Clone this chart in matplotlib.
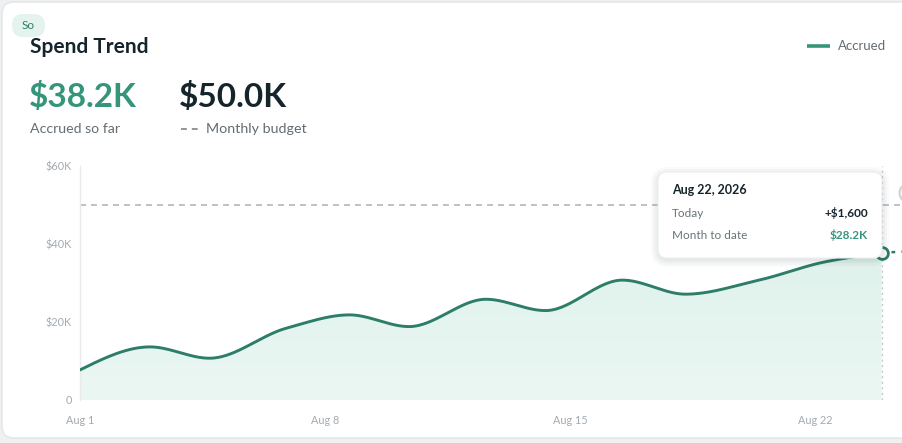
import numpy as np
import matplotlib
matplotlib.use("Agg")
import matplotlib.pyplot as plt
from matplotlib.patches import FancyBboxPatch, Circle, Polygon
from matplotlib.colors import LinearSegmentedColormap

plt.rcParams['font.family'] = ['Lato', 'DejaVu Sans']

# data (day of August, accrued $)
days = [1.0, 3.0, 4.7, 6.9, 8.7, 10.4, 12.6, 14.3, 16.5, 18.3, 20.4, 22.3, 23.9]
accrued = [7700, 13600, 10700, 18400, 21800, 18800, 25800, 22900, 30700, 27100, 30700, 35400, 37700]
budget = 50000
proj_days = [23.9, 24.5]
proj_vals = [37700, 38000]
x_ticks = [1, 8, 15, 22]
x_labels = ["Aug 1", "Aug 8", "Aug 15", "Aug 22"]
y_ticks = [0, 20000, 40000, 60000]
y_labels = ["0", "$20K", "$40K", "$60K"]

GREEN = '#2d7d69'
GREEN_TXT = '#35957b'
DARK = '#16242c'
GRAY = '#646d73'
TICK = '#a3aaaf'

W, H = 902, 443


def monotone(x, y, n=600):
    # monotone cubic (like d3 curveMonotoneX)
    x = np.asarray(x, float)
    y = np.asarray(y, float)
    h = np.diff(x)
    d = np.diff(y) / h
    m = np.zeros_like(y)
    for i in range(1, len(x) - 1):
        if d[i - 1] * d[i] <= 0:
            m[i] = 0
        else:
            w1 = 2 * h[i] + h[i - 1]
            w2 = h[i] + 2 * h[i - 1]
            m[i] = (w1 + w2) / (w1 / d[i - 1] + w2 / d[i])
    m[0] = (3 * d[0] - m[1]) / 2
    m[-1] = (3 * d[-1] - m[-2]) / 2
    xs = np.linspace(x[0], x[-1], n)
    k = np.clip(np.searchsorted(x, xs) - 1, 0, len(h) - 1)
    t = (xs - x[k]) / h[k]
    h00 = 2 * t**3 - 3 * t**2 + 1
    h10 = t**3 - 2 * t**2 + t
    h01 = -2 * t**3 + 3 * t**2
    h11 = t**3 - t**2
    ys = h00 * y[k] + h10 * h[k] * m[k] + h01 * y[k + 1] + h11 * h[k] * m[k + 1]
    return xs, ys


fig = plt.figure(figsize=(W / 100, H / 100), dpi=100, facecolor='#eef0f2')

# background layer in pixel coords
bg = fig.add_axes([0, 0, 1, 1], zorder=0)
bg.set_xlim(0, W)
bg.set_ylim(H, 0)
bg.axis('off')
bg.add_patch(FancyBboxPatch((2, 2), 920, 436, boxstyle="round,pad=0,rounding_size=12",
                            facecolor='white', edgecolor='#e2e4e6', lw=1))
bg.add_patch(FancyBboxPatch((12, 14), 33, 23, boxstyle="round,pad=0,rounding_size=11",
                            facecolor='#e4f3ee', edgecolor='none'))
bg.text(28.5, 25.5, "So", color=GREEN, fontsize=8.5, ha='center', va='center')
bg.text(30, 47, "Spend Trend", color=DARK, fontsize=15, fontweight='bold', va='center')
bg.text(29, 97, "$38.2K", color=GREEN_TXT, fontsize=24, fontweight='bold', va='center')
bg.text(179, 97, "$50.0K", color=DARK, fontsize=24, fontweight='bold', va='center')
bg.text(30, 129, "Accrued so far", color=GRAY, fontsize=10.2, va='center')
bg.plot([181, 198], [129, 129], color='#7d858a', lw=1.2, ls=(0, (3.5, 3)))
bg.text(206, 129, "Monthly budget", color=GRAY, fontsize=10.3, va='center')
bg.plot([807, 830], [46, 46], color=GREEN_TXT, lw=2.6, solid_capstyle='butt')
bg.text(838, 46, "Accrued", color=GRAY, fontsize=9.5, va='center')

# chart
ax = fig.add_axes([80 / W, (H - 400) / H, (W - 80) / W, (400 - 165.7) / H], zorder=1)
ax.set_facecolor('none')
xs, ys = monotone(days, accrued)

poly = Polygon(np.column_stack([np.r_[xs, xs[-1], xs[0]], np.r_[ys, 0, 0]]),
               closed=True, facecolor='none', edgecolor='none')
ax.add_patch(poly)
cmap = LinearSegmentedColormap.from_list('mint', ['#ebf7f3', '#dff2eb'])
grad = np.linspace(0, 1, 256).reshape(-1, 1)
im = ax.imshow(grad, extent=[xs[0], xs[-1], 0, ys.max()], origin='lower', cmap=cmap,
               aspect='auto', zorder=1)
im.set_clip_path(poly)

ax.axhline(budget, color='#b3b8bc', lw=1.2, ls=(0, (3.6, 3)), zorder=2)
ax.axvline(days[-1], color='#c3c8cb', lw=1, ls=(0, (1.5, 2.5)), zorder=2)
ax.plot(proj_days, proj_vals, color=GREEN, lw=1.8, ls=(0, (1.5, 2.5)), zorder=3)
ax.plot(xs, ys, color=GREEN, lw=2.1, zorder=4, solid_capstyle='round')
ax.plot(days[-1], accrued[-1], 'o', ms=8.5, mfc='white', mec=GREEN, mew=2, zorder=5)

ax.set_xlim(1, 1 + (W - 80) / 35)
ax.set_ylim(0, 60000)
ax.set_xticks(x_ticks, x_labels)
ax.set_yticks(y_ticks, y_labels)
ax.tick_params(axis='both', length=0, colors=TICK, labelsize=7.8)
ax.tick_params(axis='x', pad=11)
ax.tick_params(axis='y', pad=6)
for s in ['top', 'right', 'bottom']:
    ax.spines[s].set_visible(False)
ax.spines['left'].set_color('#e8eaec')
ax.spines['left'].set_linewidth(1)

# overlay: tooltip
ov = fig.add_axes([0, 0, 1, 1], zorder=2)
ov.set_xlim(0, W)
ov.set_ylim(H, 0)
ov.axis('off')
ov.add_patch(Circle((909, 193), 9.5, facecolor='#f1f6f4', edgecolor='#cdd6d3', lw=1.5))
for i, a in enumerate([0.03, 0.03, 0.025, 0.02]):
    g = 2 + 2 * i
    ov.add_patch(FancyBboxPatch((658 - g + 1, 172 - g + 3), 224 + 2 * g - 2, 86 + 2 * g - 2,
                                boxstyle="round,pad=0,rounding_size=%d" % (9 + g),
                                facecolor='#1d2a30', edgecolor='none', alpha=a))
ov.add_patch(FancyBboxPatch((658, 172), 224, 86, boxstyle="round,pad=0,rounding_size=9",
                            facecolor='white', edgecolor='#eceef0', lw=0.8))
ov.text(672, 190, "Aug 22, 2026", color=DARK, fontsize=9, fontweight='bold', va='center')
ov.text(672, 213, "Today", color='#6b7479', fontsize=8.5, va='center')
ov.text(868, 213, "+$1,600", color=DARK, fontsize=8.5, fontweight='bold', va='center', ha='right')
ov.text(672, 235, "Month to date", color='#6b7479', fontsize=8.5, va='center')
ov.text(868, 235, "$28.2K", color=GREEN_TXT, fontsize=8.5, fontweight='bold', va='center', ha='right')

fig.savefig("out.png", dpi=100, facecolor=fig.get_facecolor())
